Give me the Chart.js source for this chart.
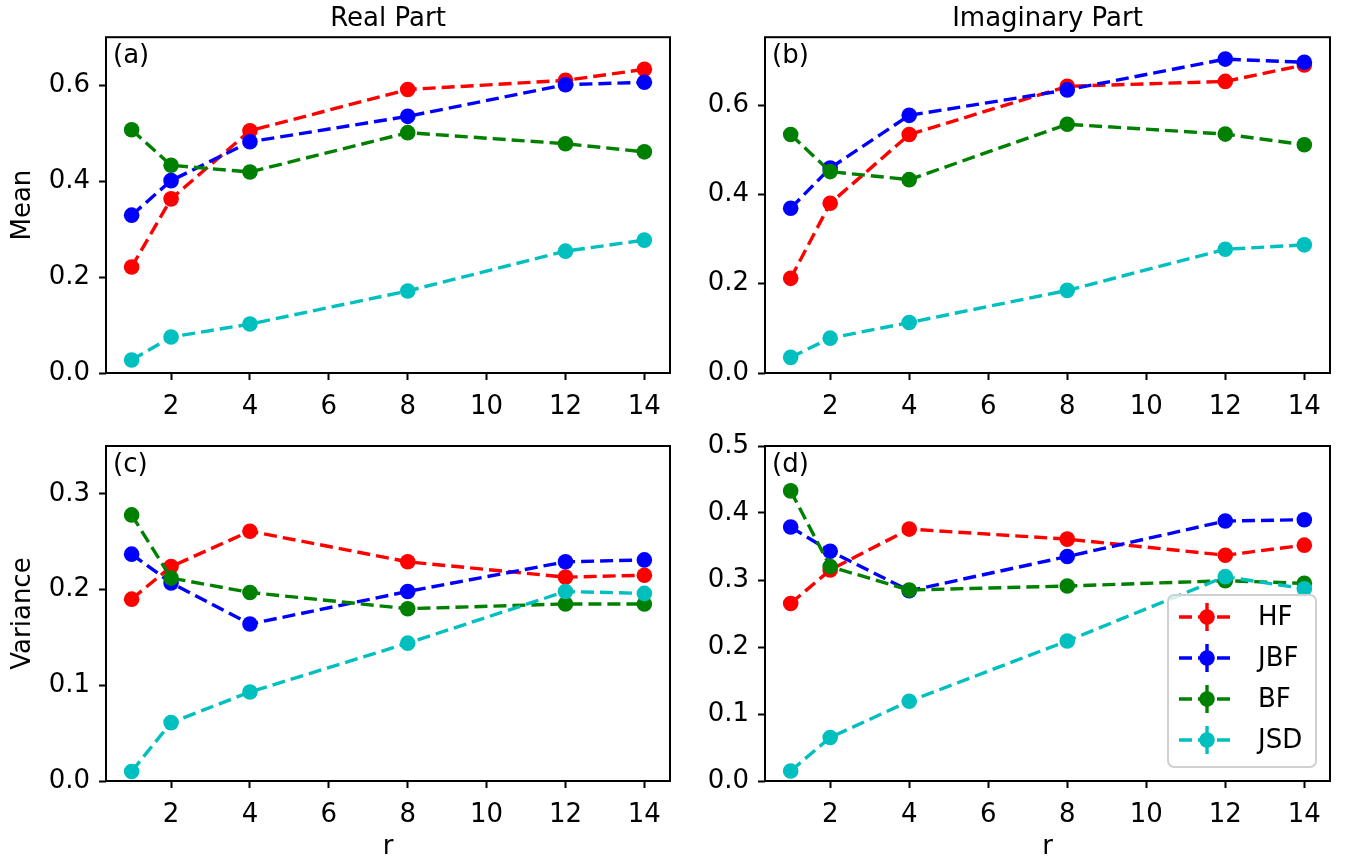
<!DOCTYPE html>
<html>
<head>
<meta charset="utf-8">
<script src="https://cdn.jsdelivr.net/npm/chart.js@4.4.0/dist/chart.umd.min.js"></script>
<style>
  html, body { margin: 0; padding: 0; background: #fff; }
  #wrap { position: relative; width: 1353px; height: 863px; overflow: hidden; }
  #wrap canvas { position: absolute; }
</style>
</head>
<body>
<div id="wrap">
  <canvas id="panelA" width="690" height="420" style="left:0;top:0"></canvas>
  <canvas id="panelB" width="663" height="420" style="left:690px;top:0"></canvas>
  <canvas id="panelC" width="690" height="443" style="left:0;top:420px"></canvas>
  <canvas id="panelD" width="663" height="443" style="left:690px;top:420px"></canvas>
</div>
<script>
Chart.defaults.font.family = "'DejaVu Sans', sans-serif";
Chart.defaults.color = '#000';

const rValues = [1, 2, 4, 8, 12, 14];
const xTickValues = [2, 4, 6, 8, 10, 12, 14];
const seriesNames = ['HF', 'JBF', 'BF', 'JSD'];
const seriesColors = ['#ff0000', '#0000ff', '#008000', '#00bfbf'];

// (a) real part, mean
const realMeanHF  = [0.221, 0.363, 0.505, 0.591, 0.610, 0.633];
const realMeanJBF = [0.329, 0.401, 0.482, 0.535, 0.601, 0.606];
const realMeanBF  = [0.507, 0.433, 0.419, 0.501, 0.478, 0.461];
const realMeanJSD = [0.027, 0.075, 0.102, 0.171, 0.254, 0.277];

// (b) imaginary part, mean
const imagMeanHF  = [0.212, 0.380, 0.534, 0.642, 0.653, 0.690];
const imagMeanJBF = [0.369, 0.459, 0.577, 0.634, 0.703, 0.696];
const imagMeanBF  = [0.534, 0.451, 0.433, 0.557, 0.535, 0.511];
const imagMeanJSD = [0.035, 0.078, 0.113, 0.185, 0.277, 0.287];

// (c) real part, variance
const realVarHF  = [0.190, 0.224, 0.261, 0.229, 0.213, 0.215];
const realVarJBF = [0.237, 0.207, 0.164, 0.198, 0.229, 0.231];
const realVarBF  = [0.278, 0.212, 0.197, 0.180, 0.185, 0.185];
const realVarJSD = [0.010, 0.061, 0.093, 0.144, 0.198, 0.196];

// (d) imaginary part, variance
const imagVarHF  = [0.265, 0.315, 0.376, 0.361, 0.337, 0.352];
const imagVarJBF = [0.379, 0.343, 0.284, 0.335, 0.388, 0.390];
const imagVarBF  = [0.433, 0.320, 0.285, 0.291, 0.299, 0.295];
const imagVarJSD = [0.015, 0.065, 0.119, 0.209, 0.305, 0.287];

const meanTicks = [0, 0.2, 0.4, 0.6];
const varTicksC = [0, 0.1, 0.2, 0.3];
const varTicksD = [0, 0.1, 0.2, 0.3, 0.4, 0.5];

const FONT = { size: 26, family: "'DejaVu Sans', sans-serif" };

buildDatasets = (lists) => {
    return lists.map((vals, i) => ({
        label: seriesNames[i],
        data: vals.map((v, j) => ({ x: rValues[j], y: v })),
        borderColor: seriesColors[i],
        backgroundColor: seriesColors[i],
        borderWidth: 3.4,
        borderDash: [13, 6],
        pointRadius: 7.8,
        pointHoverRadius: 7.8,
        pointBorderWidth: 0,
        tension: 0,
        order: lists.length - i,
        clip: false
    }));
}

// box frame, panel tag and the errorbar style legend
const panelDecor = {
    id: 'panelDecor',
    afterDatasetsDraw(chart, args, opts) {
        const ctx = chart.ctx;
        const ca = chart.chartArea;
        ctx.save();
        ctx.strokeStyle = '#000';
        ctx.lineWidth = 2;
        ctx.strokeRect(ca.left, ca.top, ca.right - ca.left, ca.bottom - ca.top);

        ctx.fillStyle = '#000';
        ctx.font = '26px ' + FONT.family;
        ctx.textAlign = 'left';
        ctx.textBaseline = 'alphabetic';
        ctx.fillText(opts.tag, ca.left + 7, ca.top + 26);

        if (opts.legend) {
            const w = 148, h = 172;
            const x0 = ca.right - 14 - w, y0 = ca.bottom - 14 - h;
            ctx.beginPath();
            ctx.roundRect(x0, y0, w, h, 6);
            ctx.fillStyle = 'rgba(255,255,255,0.8)';
            ctx.fill();
            ctx.strokeStyle = '#d0d0d0';
            ctx.lineWidth = 2;
            ctx.stroke();
            chart.data.datasets.forEach((ds, i) => {
                const cy = y0 + 22 + i * 41;
                const cx = x0 + 39;
                ctx.strokeStyle = ds.borderColor;
                ctx.lineWidth = ds.borderWidth;
                ctx.setLineDash(ds.borderDash);
                ctx.beginPath();
                ctx.moveTo(x0 + 11, cy);
                ctx.lineTo(x0 + 67, cy);
                ctx.stroke();
                ctx.setLineDash([]);
                ctx.beginPath();
                ctx.moveTo(cx, cy - 14);
                ctx.lineTo(cx, cy + 14);
                ctx.stroke();
                ctx.beginPath();
                ctx.arc(cx, cy, 7.8, 0, Math.PI * 2);
                ctx.fillStyle = ds.backgroundColor;
                ctx.fill();
                ctx.fillStyle = '#000';
                ctx.textBaseline = 'middle';
                ctx.fillText(ds.label, x0 + 90, cy + 1);
            });
        }
        ctx.restore();
    }
};

makePanel = (id, p) => {
    return new Chart(document.getElementById(id), {
        type: 'line',
        data: { datasets: buildDatasets(p.series) },
        plugins: [panelDecor],
        options: {
            responsive: false,
            devicePixelRatio: 1,
            animation: false,
            events: [],
            layout: { padding: { left: 0, right: p.padRight, top: p.padTop, bottom: 0 } },
            scales: {
                x: {
                    type: 'linear',
                    min: 0.35,
                    max: 14.65,
                    afterBuildTicks: s => { s.ticks = xTickValues.map(v => ({ value: v })); },
                    afterFit: s => { s.height = p.xHeight; },
                    ticks: { font: FONT, color: '#000', padding: 12, maxRotation: 0, autoSkip: false,
                             callback: v => String(v) },
                    grid: { drawOnChartArea: false, tickLength: 7, tickWidth: 2, color: '#000' },
                    border: { display: false },
                    title: { display: !!p.xTitle, text: p.xTitle || '', font: FONT, color: '#000',
                             padding: { top: 0, bottom: 0 } }
                },
                y: {
                    min: 0,
                    max: p.yMax,
                    afterBuildTicks: s => { s.ticks = p.yTicks.map(v => ({ value: v })); },
                    afterFit: s => { s.width = p.yWidth; },
                    ticks: { font: FONT, color: '#000', padding: 9, callback: v => v.toFixed(1) },
                    grid: { drawOnChartArea: false, tickLength: 7, tickWidth: 2, color: '#000' },
                    border: { display: false },
                    title: { display: !!p.yTitle, text: p.yTitle || '', font: FONT, color: '#000',
                             padding: { top: 8, bottom: 0 } }
                }
            },
            plugins: {
                legend: { display: false },
                tooltip: { enabled: false },
                title: {
                    display: !!p.title,
                    text: p.title || '',
                    fullSize: false,
                    font: { size: 26, family: FONT.family, weight: 'normal' },
                    color: '#000',
                    padding: { top: 4, bottom: 2 }
                },
                panelDecor: { tag: p.tag, legend: !!p.legend }
            }
        }
    });
}

makePanel('panelA', {
    series: [realMeanHF, realMeanJBF, realMeanBF, realMeanJSD],
    yMax: 0.7, yTicks: meanTicks, yTitle: 'Mean', title: 'Real Part', tag: '(a)',
    yWidth: 106, xHeight: 47, padRight: 20, padTop: 0
});
makePanel('panelB', {
    series: [imagMeanHF, imagMeanJBF, imagMeanBF, imagMeanJSD],
    yMax: 0.752, yTicks: meanTicks, title: 'Imaginary Part', tag: '(b)',
    yWidth: 75, xHeight: 47, padRight: 23, padTop: 0
});
makePanel('panelC', {
    series: [realVarHF, realVarJBF, realVarBF, realVarJSD],
    yMax: 0.35, yTicks: varTicksC, yTitle: 'Variance', xTitle: 'r', tag: '(c)',
    yWidth: 106, xHeight: 82, padRight: 20, padTop: 26
});
makePanel('panelD', {
    series: [imagVarHF, imagVarJBF, imagVarBF, imagVarJSD],
    yMax: 0.5, yTicks: varTicksD, xTitle: 'r', tag: '(d)', legend: true,
    yWidth: 75, xHeight: 82, padRight: 23, padTop: 26
});
</script>
</body>
</html>
